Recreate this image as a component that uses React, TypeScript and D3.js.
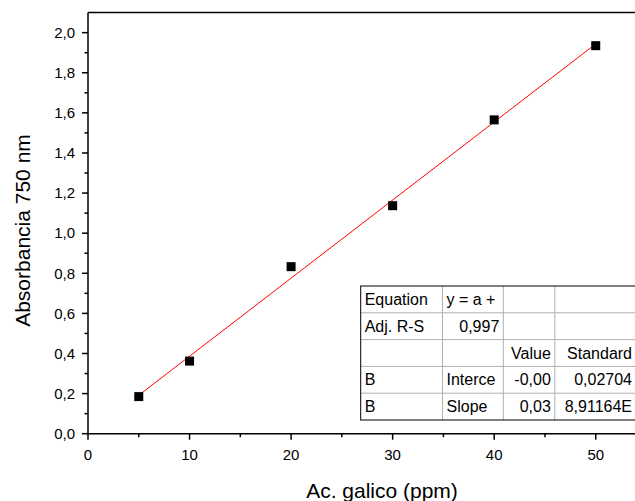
import React from "react";
import * as d3 from "d3";

const concentrations = [5, 10, 20, 30, 40, 50];
const absorbances = [0.185, 0.362, 0.833, 1.137, 1.565, 1.935];
const xTicks = [0, 10, 20, 30, 40, 50];
const yTicks = [0, 0.2, 0.4, 0.6, 0.8, 1.0, 1.2, 1.4, 1.6, 1.8, 2.0];
const tableRows = [
  ["Equation", "y = a +", "", ""],
  ["Adj. R-S", "0,997", "", ""],
  ["", "", "Value", "Standard"],
  ["B", "Interce", "-0,00", "0,02704"],
  ["B", "Slope", "0,03", "8,91164E"],
];
const tableAlign = [
  ["start", "start", "end", "end"],
  ["start", "end", "end", "end"],
  ["start", "end", "end", "end"],
  ["start", "start", "end", "end"],
  ["start", "start", "end", "end"],
];

const W = 635;
const H = 501;
const font = "'Liberation Sans', Arial, sans-serif";

export default function App() {
  const x = d3.scaleLinear().domain([0, 55]).range([88, 646.5]);
  const y = d3.scaleLinear().domain([0, 2.1]).range([433.7, 12.6]);

  // least squares fit
  const mx = d3.mean(concentrations)!;
  const my = d3.mean(absorbances)!;
  let sxy = 0, sxx = 0;
  concentrations.forEach((c, i) => {
    sxy += (c - mx) * (absorbances[i] - my);
    sxx += (c - mx) * (c - mx);
  });
  const slope = sxy / sxx;
  const intercept = my - slope * mx;
  const x0 = d3.min(concentrations)!;
  const x1 = d3.max(concentrations)!;
  const line = d3.line<number>().x((d) => x(d)).y((d) => y(intercept + slope * d));

  const xMinor = d3.range(5, 55, 10);
  const yMinor = d3.range(0.1, 2.1, 0.2);

  const tX = 360.7;
  const tY = 286;
  const colEdges = [360.7, 442.5, 503.3, 554.8, 660];
  const rowH = 26.8;
  const pad = 4;

  return (
    <svg width={W} height={H} style={{ position: "absolute", left: 0, top: 0, background: "#fff" }} fontFamily={font}>
      <rect width={W} height={H} fill="#fff" />
      {/* fit line */}
      <path d={line([x0, x1]) || ""} stroke="#ff0000" strokeWidth={1} fill="none" />
      {/* points */}
      {concentrations.map((c, i) => (
        <rect key={i} x={x(c) - 4.5} y={y(absorbances[i]) - 4.5} width={9} height={9} fill="#000" />
      ))}
      {/* axes frame */}
      <line x1={x(0)} x2={x(55)} y1={y(0)} y2={y(0)} stroke="#000" strokeWidth={1.5} />
      <line x1={x(0)} x2={x(55)} y1={y(2.1)} y2={y(2.1)} stroke="#000" strokeWidth={1.5} />
      <line x1={x(0)} x2={x(0)} y1={y(0)} y2={y(2.1)} stroke="#000" strokeWidth={1.5} />
      {/* x ticks */}
      {xTicks.map((t) => (
        <g key={t}>
          <line x1={x(t)} x2={x(t)} y1={y(0)} y2={y(0) + 6} stroke="#000" strokeWidth={1.5} />
          <text x={x(t)} y={460} textAnchor="middle" fontSize={15} fill="#000">{t}</text>
        </g>
      ))}
      {xMinor.map((t) => (
        <line key={t} x1={x(t)} x2={x(t)} y1={y(0)} y2={y(0) + 3.5} stroke="#000" strokeWidth={1.5} />
      ))}
      {/* y ticks */}
      {yTicks.map((t) => (
        <g key={t}>
          <line x1={x(0) - 6} x2={x(0)} y1={y(t)} y2={y(t)} stroke="#000" strokeWidth={1.5} />
          <text x={75} y={y(t) + 5.3} textAnchor="end" fontSize={15} fill="#000">
            {d3.format(".1f")(t).replace(".", ",")}
          </text>
        </g>
      ))}
      {yMinor.map((t) => (
        <line key={t} x1={x(0) - 3.5} x2={x(0)} y1={y(t)} y2={y(t)} stroke="#000" strokeWidth={1.5} />
      ))}
      {/* titles */}
      <text x={382} y={497.5} textAnchor="middle" fontSize={21} fill="#000">Ac. galico (ppm)</text>
      <text transform={`translate(30,${230.5}) rotate(-90)`} textAnchor="middle" fontSize={21} fill="#000">Absorbancia 750 nm</text>
      {/* table */}
      <defs>
        {tableRows[0].map((_, j) => (
          <clipPath id={`col${j}`} key={j}>
            <rect x={colEdges[j]} y={tY} width={colEdges[j + 1] - colEdges[j]} height={rowH * 5} />
          </clipPath>
        ))}
      </defs>
      <rect x={tX} y={tY} width={660 - tX} height={rowH * 5} fill="#fff" />
      {d3.range(1, 5).map((r) => (
        <line key={"h" + r} x1={tX} x2={660} y1={tY + r * rowH} y2={tY + r * rowH} stroke="#b0b0b0" strokeWidth={1} />
      ))}
      {colEdges.slice(1, 4).map((cx, j) => (
        <line key={"v" + j} x1={cx} x2={cx} y1={tY} y2={tY + rowH * 5} stroke="#b0b0b0" strokeWidth={1} />
      ))}
      <rect x={tX} y={tY} width={660 - tX} height={rowH * 5} fill="none" stroke="#000" strokeWidth={1} />
      {tableRows.map((row, r) =>
        row.map((cell, j) => {
          const al = tableAlign[r][j];
          const right = j === 3 ? 632 : colEdges[j + 1] - pad;
          const tx = al === "start" ? colEdges[j] + pad : right;
          return (
            <text key={r + "-" + j} x={tx} y={tY + r * rowH + 19} textAnchor={al} fontSize={16} fill="#000" clipPath={`url(#col${j})`}>
              {cell}
            </text>
          );
        })
      )}
    </svg>
  );
}
